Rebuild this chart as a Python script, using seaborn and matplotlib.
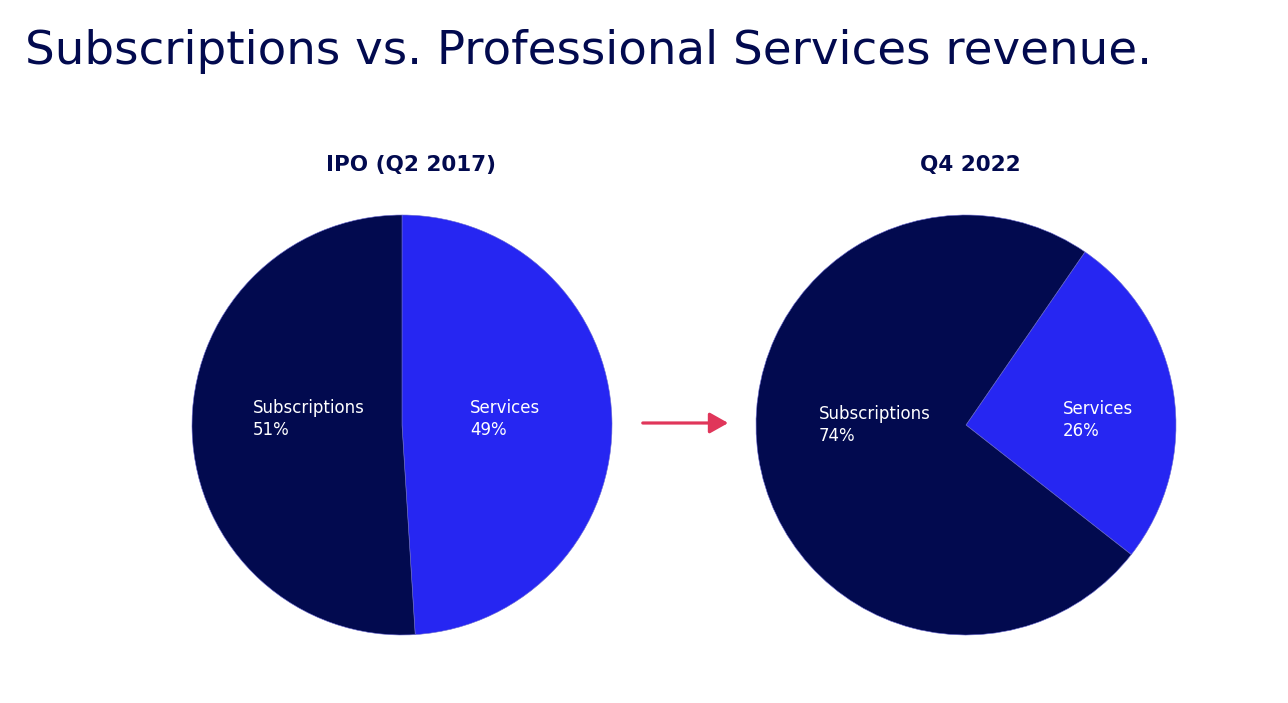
import matplotlib
matplotlib.use("Agg")
import matplotlib.pyplot as plt
import seaborn as sns

sns.set_theme(style="white")
plt.rcParams['font.family'] = ['DejaVu Sans']

categories = ["Services", "Subscriptions"]
ipo_values = [49, 51]
q4_values = [26, 74]
titles = ["IPO (Q2 2017)", "Q4 2022"]
main_title = "Subscriptions vs. Professional Services revenue."

navy = "#020A4F"
blue = "#2626F2"
colors = sns.color_palette([blue, navy])

W, H = 1288, 703
fig = plt.figure(figsize=(W / 100, H / 100), dpi=100)
fig.patch.set_facecolor("white")

def px_axes(left, top, w, h):
    return fig.add_axes([left / W, 1 - (top + h) / H, w / W, h / H])

ax1 = px_axes(192, 215, 420, 420)
ax2 = px_axes(756, 215, 420, 420)

ax1.pie(ipo_values, colors=colors, startangle=90, counterclock=False,
        wedgeprops=dict(edgecolor="#6a6ad0", linewidth=0.4))
ax2.pie(q4_values, colors=colors, startangle=55.5, counterclock=False,
        wedgeprops=dict(edgecolor="#6a6ad0", linewidth=0.4))
for ax in (ax1, ax2):
    ax.set_xlim(-1, 1)
    ax.set_ylim(-1, 1)
    ax.set_aspect("equal")
    ax.axis("off")

lab_kw = dict(color="white", fontsize=12, ha="left", va="center", linespacing=1.3)
ax1.text(-0.71, 0.03, f"{categories[1]}\n{ipo_values[1]}%", **lab_kw)
ax1.text(0.325, 0.03, f"{categories[0]}\n{ipo_values[0]}%", **lab_kw)
ax2.text(-0.70, 0.0, f"{categories[1]}\n{q4_values[1]}%", **lab_kw)
ax2.text(0.462, 0.025, f"{categories[0]}\n{q4_values[0]}%", **lab_kw)

fig.text(25 / W, 1 - 51 / H, main_title, color=navy, fontsize=33.7,
         ha="left", va="center")
fig.text(411 / W, 1 - 165 / H, titles[0], color=navy, fontsize=15.5,
         fontweight="bold", ha="center", va="center")
fig.text(970 / W, 1 - 165 / H, titles[1], color=navy, fontsize=15.5,
         fontweight="bold", ha="center", va="center")

fig.add_artist(matplotlib.patches.FancyArrowPatch(
    (640 / W, 1 - 423 / H), (731 / W, 1 - 423 / H),
    transform=fig.transFigure, arrowstyle="-|>,head_length=8,head_width=4.5",
    mutation_scale=1.4, color="#E0365A", linewidth=2.3))

fig.savefig("out.png", dpi=100, facecolor="white")
